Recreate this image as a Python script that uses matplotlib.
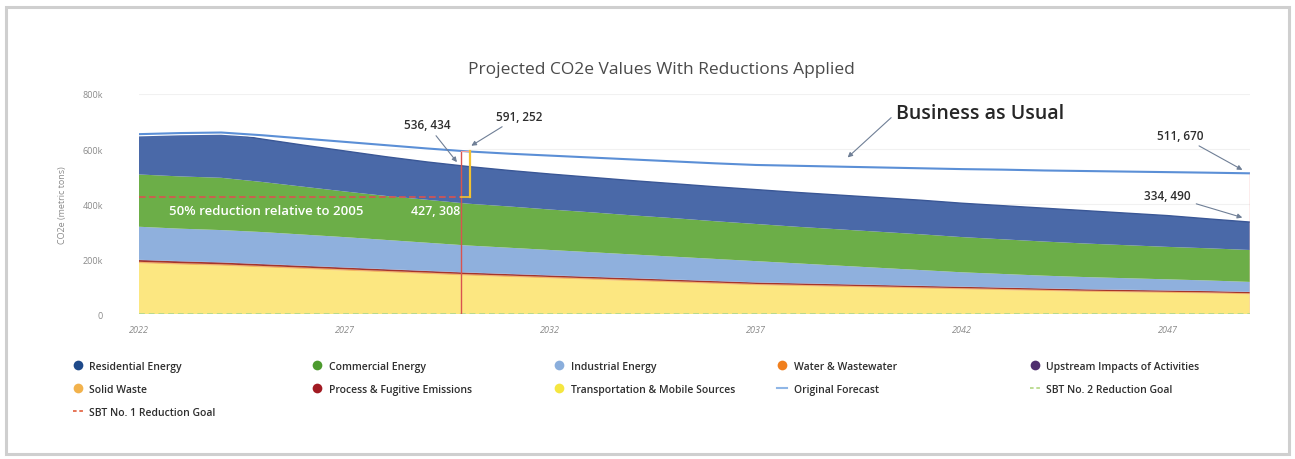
import matplotlib
matplotlib.use('Agg')
import matplotlib.patheffects as pe
from matplotlib import pyplot as plt
from matplotlib.lines import Line2D
from matplotlib.patches import Rectangle
from matplotlib.ticker import FuncFormatter

plt.rcParams['font.family'] = ['Open Sans', 'DejaVu Sans']

years = list(range(2022, 2050))

# metric tons CO2e per sector, stacked bottom to top
transportation = [185000, 180000, 176000, 170000, 164000, 158000, 152000, 146000, 140000, 135000,
                  130000, 125000, 120000, 115000, 110000, 105000, 102000, 99000, 96000, 93000,
                  90000, 87000, 84000, 81000, 79000, 77000, 75000, 72000]
solid_waste = [3000, 3000, 2990, 2970, 2950, 2930, 2920, 2910, 2900, 2870, 2840, 2810, 2780, 2750,
               2720, 2690, 2660, 2630, 2600, 2570, 2540, 2500, 2460, 2420, 2380, 2330, 2270, 2200]
water = [2000, 2000, 1990, 1980, 1970, 1950, 1940, 1920, 1900, 1880, 1860, 1840, 1820, 1800,
         1780, 1760, 1740, 1720, 1700, 1680, 1660, 1640, 1620, 1600, 1580, 1560, 1530, 1500]
process = [6500, 6450, 6400, 6250, 6100, 5950, 5800, 5700, 5600, 5520, 5450, 5400, 5350, 5300,
           5250, 5200, 5150, 5100, 5050, 5000, 4950, 4900, 4850, 4800, 4750, 4700, 4650, 4600]
upstream = [1000, 1000, 1000, 980, 960, 940, 920, 910, 900, 890, 880, 870, 860, 850,
            840, 830, 820, 810, 800, 790, 780, 770, 760, 750, 740, 730, 715, 700]
industrial = [120000, 118000, 117000, 116000, 113000, 110000, 106000, 102000, 98000, 95000,
              92000, 89000, 86000, 83000, 80000, 77000, 72000, 67000, 62000, 57000,
              52000, 49000, 46000, 44000, 42000, 40000, 38000, 36000]
commercial = [190000, 190000, 190000, 182000, 174000, 166000, 160000, 156000, 152000, 150000,
              147000, 145000, 142000, 140000, 137000, 135000, 133000, 132000, 131000, 130000,
              128000, 126000, 124000, 122000, 120000, 118000, 117000, 116000]
residential = [146500, 157550, 164620, 155820, 151020, 147230, 142420, 137560, 135134, 130840,
               128970, 127080, 126190, 125300, 125200, 125000, 124800, 124500, 124200, 124000,
               123070, 122190, 121310, 119430, 116550, 113680, 106835, 101490]

original_forecast = [654000, 658000, 660000, 650000, 638000, 626000, 614000, 602000, 591252, 583000,
                     576000, 569000, 562000, 555000, 548000, 542000, 539000, 536000, 533000, 530000,
                     527000, 525000, 522000, 520000, 518000, 516000, 514000, 511670]

goal_year = 2030
sbt1_goal = 427308
sbt2_goal = 0

sectors = ['Transportation & Mobile Sources', 'Solid Waste', 'Water & Wastewater',
           'Process & Fugitive Emissions', 'Upstream Impacts of Activities',
           'Industrial Energy', 'Commercial Energy', 'Residential Energy']
layers = [transportation, solid_waste, water, process, upstream, industrial, commercial, residential]
fill_colors = ['#fce781', '#f2b24c', '#f08a2a', '#a5352b', '#5b3a78', '#8fb0dd', '#6cae48', '#4a69a8']
dot_colors = {'Residential Energy': '#1f4a8a', 'Commercial Energy': '#4c9a2e',
              'Industrial Energy': '#8aaedc', 'Water & Wastewater': '#f07f1e',
              'Upstream Impacts of Activities': '#4f2f6e', 'Solid Waste': '#f2b24c',
              'Process & Fugitive Emissions': '#a11a22',
              'Transportation & Mobile Sources': '#f5e640'}


def pair(v):
    return f'{v / 1000:.3f}'.replace('.', ', ')


fig = plt.figure(figsize=(12.95, 4.6), dpi=100)
fig.patches.append(Rectangle((0.005, 0.011), 0.99, 0.971, transform=fig.transFigure,
                             fill=False, edgecolor='#cfcfcf', linewidth=2.2))
ax = fig.add_axes([0.1073, 0.315, 0.8578, 0.4785])

ax.stackplot(years, *layers, colors=fill_colors, linewidth=0)
totals = [sum(v) for v in zip(*layers)]
ax.plot(years, totals, color='#3a5796', linewidth=1.0)
ax.plot(years, original_forecast, color='#5b8fd6', linewidth=1.5,
        path_effects=[pe.Stroke(linewidth=3.2, foreground='white'), pe.Normal()])

# SBT No. 2 goal along the floor, SBT No. 1 goal up to the goal year
ax.plot(years, [sbt2_goal] * len(years), color='#b9da8c', linestyle=(0, (3, 2)), linewidth=1.4)
fi = years.index(goal_year)
ax.plot([years[0], goal_year - 0.18], [sbt1_goal, sbt1_goal], color='#d9534f', linestyle=(0, (4, 2)),
        linewidth=1.2)
ax.plot([goal_year - 0.18, goal_year - 0.18], [0, original_forecast[fi]], color='#d9534f', linewidth=1.0)
ax.plot([goal_year - 0.18, goal_year + 0.05], [original_forecast[fi]] * 2, color='#f0a0a0', linewidth=0.8)
ax.plot([goal_year + 0.05, goal_year + 0.05], [sbt1_goal, original_forecast[fi]], color='#f2c230',
        linewidth=1.6)
ax.plot([goal_year - 0.18, goal_year + 0.05], [sbt1_goal, sbt1_goal], color='#f2c230', linewidth=1.2)
ax.plot([years[-1], years[-1]], [0, original_forecast[-1]], color='#f2a0a0', linewidth=1.0)

ax.set_xlim(years[0], years[-1])
ax.set_ylim(0, 800000)
ax.set_xticks(years[::5])
ax.set_yticks([0, 200000, 400000, 600000, 800000])
ax.yaxis.set_major_formatter(FuncFormatter(lambda v, p: '0' if v == 0 else f'{int(v / 1000)}k'))
ax.tick_params(length=0, labelsize=6.5, labelcolor='#8a8a8a')
ax.tick_params(axis='y', pad=26)
ax.tick_params(axis='x', pad=8)
for lbl in ax.get_xticklabels():
    lbl.set_fontstyle('italic')
ax.grid(axis='y', color='#f1f1f1', linewidth=0.8)
ax.set_axisbelow(True)
for s in ax.spines.values():
    s.set_visible(False)
ax.set_ylabel('CO2e (metric tons)', fontsize=6.5, color='#8a8a8a', labelpad=11)

fig.text(0.511, 0.848, 'Projected CO2e Values With Reductions Applied', ha='center', va='center',
         fontsize=12.5, color='#4a4a4a')

note = dict(ha='center', va='center', fontsize=8.5, color='#2e2e2e', fontweight='semibold')
arrow = dict(arrowstyle='-|>', color='#6f7f96', lw=0.8, mutation_scale=7, shrinkA=2, shrinkB=1)
ax.annotate(pair(totals[fi]), xy=(goal_year - 0.25, totals[fi] + 12000),
            xytext=(goal_year - 1.0, 690000), arrowprops=arrow, **note)
ax.annotate(pair(original_forecast[fi]), xy=(goal_year + 0.05, original_forecast[fi] + 18000),
            xytext=(goal_year + 1.25, 720000), arrowprops=arrow, **note)
ax.annotate('Business as Usual', xy=(2039.2, original_forecast[17] + 30000), xytext=(2040.4, 730000),
            ha='left', va='center', fontsize=14, color='#262626', fontweight='semibold',
            arrowprops=dict(arrow, relpos=(0, 0.5)))
ax.annotate(pair(original_forecast[-1]), xy=(years[-1] - 0.15, original_forecast[-1] + 10000),
            xytext=(2047.3, 650000), arrowprops=arrow, **note)
ax.annotate(pair(totals[-1]), xy=(years[-1] - 0.15, totals[-1] + 15000),
            xytext=(2047.0, 432000), arrowprops=arrow, **note)
ax.text(2025.1, 375000, '50% reduction relative to 2005', ha='center', va='center', fontsize=9.5,
        color='white', fontweight='semibold')
ax.text(goal_year - 0.8, 375000, pair(sbt1_goal), ha='center', va='center', fontsize=9,
        color='white', fontweight='semibold')

# legend laid out row by row in five fixed-width columns
legend_rows = [
    ['Residential Energy', 'Commercial Energy', 'Industrial Energy', 'Water & Wastewater',
     'Upstream Impacts of Activities'],
    ['Solid Waste', 'Process & Fugitive Emissions', 'Transportation & Mobile Sources',
     'Original Forecast', 'SBT No. 2 Reduction Goal'],
    ['SBT No. 1 Reduction Goal'],
]
line_handles = {
    'Original Forecast': Line2D([], [], color='#8fb6e6', linewidth=1.5),
    'SBT No. 2 Reduction Goal': Line2D([], [], color='#b9da8c', linestyle=(0, (2, 1.5)), linewidth=1.3),
    'SBT No. 1 Reduction Goal': Line2D([], [], color='#e46a4a', linestyle=(0, (2, 1.5)), linewidth=1.3),
}
col_x = [0.056, 0.241, 0.428, 0.600, 0.795]
for c in range(5):
    handles, labels = [], []
    for row in legend_rows:
        if c < len(row):
            name = row[c]
            if name in line_handles:
                handles.append(line_handles[name])
            else:
                handles.append(Line2D([], [], linestyle='none', marker='o', markersize=7,
                                      markerfacecolor=dot_colors[name], markeredgewidth=0))
            labels.append(name)
    leg = fig.legend(handles, labels, loc='upper left', bbox_to_anchor=(col_x[c], 0.214), frameon=False,
                     fontsize=7.5, labelcolor='#2e2e2e', handlelength=1.0, handletextpad=0.6,
                     labelspacing=1.15, borderaxespad=0, borderpad=0)
    for t in leg.get_texts():
        t.set_fontweight('semibold')

plt.savefig('out.png', dpi=100)
